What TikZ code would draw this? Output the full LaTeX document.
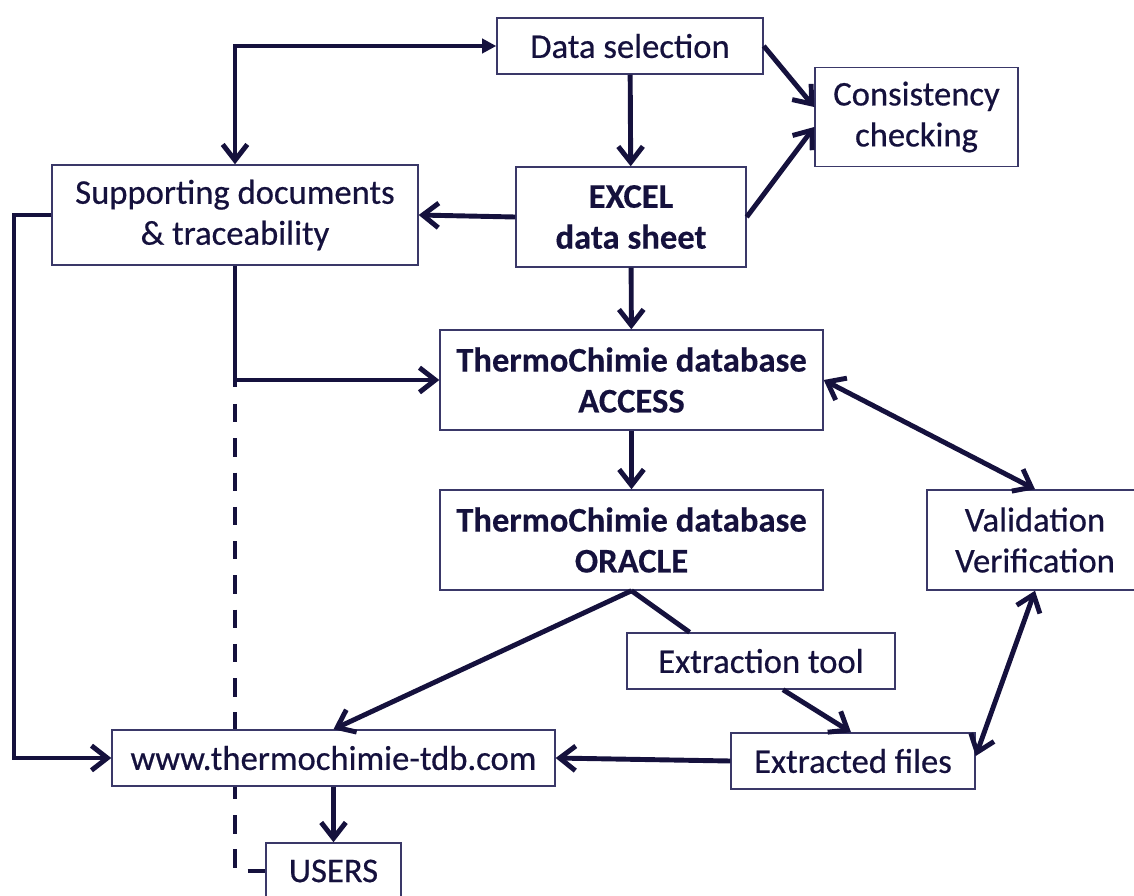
\documentclass[tikz,border=0pt]{standalone}
\usepackage{fontspec}
\setmainfont{Carlito}[UprightFeatures={FakeBold=0.5},BoldFeatures={FakeBold=0.3}]
\usetikzlibrary{arrows.meta,calc,backgrounds}
\definecolor{navy}{HTML}{15113D}
\definecolor{boxline}{HTML}{3A3868}
\begin{document}
\begin{tikzpicture}[x=0.02cm,y=-0.02cm,
  box/.style={draw=boxline,fill=white,line width=0.85pt,text=navy,align=center,inner sep=0pt,
    font=\fontsize{19.7}{23.3}\selectfont},
  boldbox/.style={box,font=\fontsize{19.7}{23.3}\selectfont\bfseries},
  conn/.style={draw=navy,line width=2.8pt},
  >={Straight Barb[length=9pt,width=14pt]}]
\useasboundingbox (0,0) rectangle (1134,896);

\node[box,minimum width=5.32cm,minimum height=1.12cm] (ds) at (630,46) {Data selection};
\node[box,minimum width=4.06cm,minimum height=1.98cm] (cc) at (916.5,117) {Consistency\\checking};
\node[box,minimum width=7.32cm,minimum height=2cm] (sd) at (235,215) {Supporting documents\\\& traceability};
\node[boldbox,minimum width=4.6cm,minimum height=2cm] (ex) at (631,217) {EXCEL\\data sheet};
\node[boldbox,minimum width=7.66cm,minimum height=2cm] (ac) at (631.5,380) {ThermoChimie database\\ACCESS};
\node[boldbox,minimum width=7.66cm,minimum height=2cm] (or) at (631.5,540) {ThermoChimie database\\ORACLE};
\node[box,minimum width=4.32cm,minimum height=2cm] (vv) at (1035,540) {Validation\\Verification};
\node[box,minimum width=5.36cm,minimum height=1.12cm] (et) at (761,661) {Extraction tool};
\node[box,minimum width=8.86cm,minimum height=1.12cm] (www) at (333.5,758) {www.thermochimie-tdb.com};
\node[box,minimum width=4.88cm,minimum height=1.12cm] (ef) at (853,761) {Extracted files};
\node[box,minimum width=2.7cm,minimum height=1.12cm] (us) at (333.5,871) {USERS};

\coordinate (lx) at (14,0);
\coordinate (j) at (sd.south |- ac.west);

\draw[conn,{Straight Barb[length=9pt,width=14pt]}-{Triangle[length=8pt,width=8pt]}] (sd.north) |- (ds.west);
\draw[conn,->] (ds) -- (ex);
\draw[conn,->] (ds.east) -- ([yshift=0.2cm]cc.west);
\draw[conn,->] (ex.east) -- ([yshift=-0.2cm]cc.west);
\draw[conn,->] (ex.west) -- (sd.east);
\draw[conn,->] (ex) -- (ac);
\draw[conn,->] (sd.south) -- (j) -- (ac.west);
\draw[conn] (j) -- ([yshift=-0.14cm]j);
\begin{scope}[on background layer]
\draw[conn,dash pattern=on 10.5pt off 9pt] ([yshift=-0.48cm]j) |- (us.west);
\end{scope}
\draw[conn,->] (sd.west) -- (sd.west -| lx) |- (www.west);
\draw[conn,->] (ac) -- (or);
\draw[conn,<->] (ac.east) -- (vv.north);
\draw[conn,->] (or.south) -- (www.north);
\draw[conn] (or.south) -- ($(et.north west)!0.235!(et.north east)$);
\draw[conn,->] ([xshift=0.44cm]et.south) -- ([xshift=-0.04cm]ef.north);
\draw[conn,->] (ef.west) -- (www.east);
\draw[conn,<->] ([yshift=0.1cm]ef.east) -- (vv.south);
\draw[conn,->] (www) -- (us);
\end{tikzpicture}
\end{document}
